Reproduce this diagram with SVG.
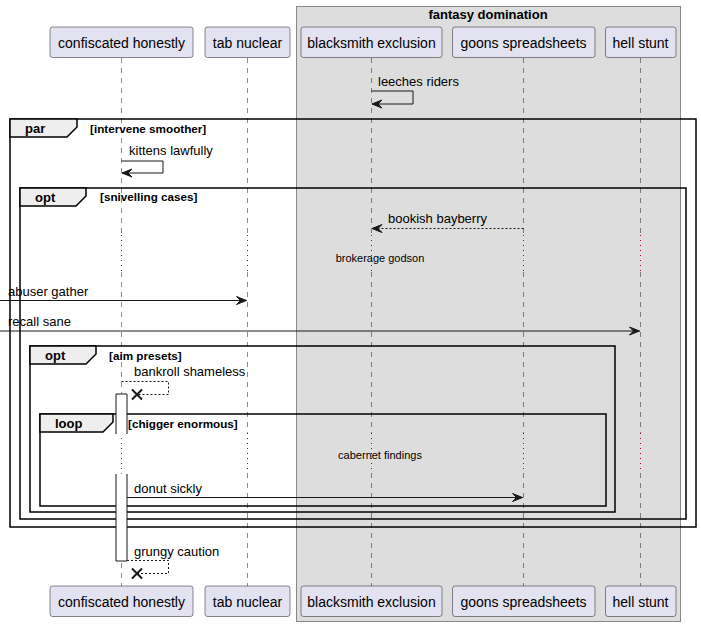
<svg xmlns="http://www.w3.org/2000/svg" width="701" height="627" viewBox="0 0 701 627">
  <style>
    text { font-family: "Liberation Sans", Arial, sans-serif; fill: #000; }
    .pbox { fill: #E2E2F0; stroke: #181818; stroke-width: 0.5; }
    .pname { font-size: 14px; text-anchor: middle; }
    .life { fill: none; stroke: #181818; stroke-width: 0.5; stroke-dasharray: 5,5; }
    .delay { fill: none; stroke: #A80036; stroke-width: 1; stroke-dasharray: 1,4; }
    .frame { fill: none; stroke: #000; stroke-width: 1.5; }
    .tab { fill: #EEEEEE; stroke: #000; stroke-width: 1.5; }
    .tabname { font-size: 13px; font-weight: bold; }
    .cond { font-size: 11.7px; font-weight: bold; }
    .msg { fill: none; stroke: #181818; stroke-width: 1; }
    .dashed { stroke-dasharray: 2,2; }
    .head { fill: #181818; stroke: #181818; stroke-width: 1; }
    .mlabel { font-size: 13px; }
    .dlabel { font-size: 11px; text-anchor: middle; }
    .kill { stroke: #181818; stroke-width: 2; }
    .act { fill: #FFFFFF; stroke: #181818; stroke-width: 1; }
  </style>

  <!-- box grouping the right-hand participants -->
  <g id="box-fantasy-domination">
    <rect x="296.5" y="6.5" width="384" height="615" fill="#DDDDDD" stroke="#888888" stroke-width="1"/>
    <text x="488" y="19" font-size="13" font-weight="bold" text-anchor="middle">fantasy domination</text>
  </g>

  <!-- lifelines -->
  <g id="lifelines">
    <path class="life" d="M121.5,58 V235 M121.5,272 V433 M121.5,473 V586"/>
    <path class="life" d="M247.5,58 V235 M247.5,272 V433 M247.5,473 V586"/>
    <path class="life" d="M371.5,58 V235 M371.5,272 V433 M371.5,473 V586"/>
    <path class="life" d="M523.5,58 V235 M523.5,272 V433 M523.5,473 V586"/>
    <path class="life" d="M640.5,58 V235 M640.5,272 V433 M640.5,473 V586"/>
    <path class="delay" d="M121.5,235 V272 M121.5,433 V473"/>
    <path class="delay" d="M247.5,235 V272 M247.5,433 V473"/>
    <path class="delay" d="M371.5,235 V272 M371.5,433 V473"/>
    <path class="delay" d="M523.5,235 V272 M523.5,433 V473"/>
    <path class="delay" d="M640.5,235 V272 M640.5,433 V473"/>
  </g>

  <!-- participants (head and foot) -->
  <g id="p-confiscated-honestly">
    <rect class="pbox" x="50" y="27" width="143" height="30.5" rx="2.5"/>
    <text class="pname" x="121.5" y="47.5">confiscated honestly</text>
    <rect class="pbox" x="50" y="586" width="143" height="30.5" rx="2.5"/>
    <text class="pname" x="121.5" y="606.5">confiscated honestly</text>
  </g>
  <g id="p-tab-nuclear">
    <rect class="pbox" x="205" y="27" width="85" height="30.5" rx="2.5"/>
    <text class="pname" x="247.5" y="47.5">tab nuclear</text>
    <rect class="pbox" x="205" y="586" width="85" height="30.5" rx="2.5"/>
    <text class="pname" x="247.5" y="606.5">tab nuclear</text>
  </g>
  <g id="p-blacksmith-exclusion">
    <rect class="pbox" x="301" y="27" width="141" height="30.5" rx="2.5"/>
    <text class="pname" x="371.5" y="47.5">blacksmith exclusion</text>
    <rect class="pbox" x="301" y="586" width="141" height="30.5" rx="2.5"/>
    <text class="pname" x="371.5" y="606.5">blacksmith exclusion</text>
  </g>
  <g id="p-goons-spreadsheets">
    <rect class="pbox" x="452.5" y="27" width="142.5" height="30.5" rx="2.5"/>
    <text class="pname" x="523.5" y="47.5">goons spreadsheets</text>
    <rect class="pbox" x="452.5" y="586" width="142.5" height="30.5" rx="2.5"/>
    <text class="pname" x="523.5" y="606.5">goons spreadsheets</text>
  </g>
  <g id="p-hell-stunt">
    <rect class="pbox" x="605.5" y="27" width="70.5" height="30.5" rx="2.5"/>
    <text class="pname" x="640.5" y="47.5">hell stunt</text>
    <rect class="pbox" x="605.5" y="586" width="70.5" height="30.5" rx="2.5"/>
    <text class="pname" x="640.5" y="606.5">hell stunt</text>
  </g>

  <!-- combined fragments -->
  <g id="frame-par">
    <rect class="frame" x="10" y="119" width="686" height="408"/>
    <polygon class="tab" points="10,119 77,119 77,127 67,137 10,137"/>
    <text class="tabname" x="25" y="133">par</text>
    <text class="cond" x="90" y="133">[intervene smoother]</text>
  </g>
  <g id="frame-opt-snivelling">
    <rect class="frame" x="20" y="188" width="666" height="331"/>
    <polygon class="tab" points="20,188 86,188 86,196 76,206 20,206"/>
    <text class="tabname" x="35" y="202">opt</text>
    <text class="cond" x="100" y="201">[snivelling cases]</text>
  </g>
  <g id="frame-opt-aim">
    <rect class="frame" x="30" y="346" width="585" height="166"/>
    <polygon class="tab" points="30,346 96,346 96,354 86,364 30,364"/>
    <text class="tabname" x="45" y="360">opt</text>
    <text class="cond" x="109" y="360">[aim presets]</text>
  </g>
  <g id="frame-loop">
    <rect class="frame" x="40" y="414" width="566" height="92"/>
    <polygon class="tab" points="40,414 113,414 113,422 103,432 40,432"/>
    <text class="tabname" x="55" y="428">loop</text>
    <text class="cond" x="128" y="428">[chigger enormous]</text>
  </g>

  <!-- activation bar on confiscated honestly -->
  <g id="activation">
    <rect x="116" y="394" width="11" height="40" fill="#FFFFFF"/>
    <path class="act" d="M116,434 V394 H127 V434" fill="none"/>
    <rect x="116" y="474" width="11" height="87" fill="#FFFFFF"/>
    <path class="act" d="M116,474 V561 H127 V474" fill="none"/>
  </g>

  <!-- messages -->
  <g id="connectors">
    <!-- leeches riders -->
    <path class="msg" d="M371.5,91 H413 V104 H372"/>
    <polygon class="head" points="382,100 372,104 382,108 378,104"/>
    <text class="mlabel" x="378" y="86">leeches riders</text>

    <!-- kittens lawfully -->
    <path class="msg" d="M121.5,161 H163 V173 H122"/>
    <polygon class="head" points="132,169 122,173 132,177 128,173"/>
    <text class="mlabel" x="129" y="155">kittens lawfully</text>

    <!-- bookish bayberry -->
    <path class="msg dashed" d="M523.5,228.5 H372"/>
    <polygon class="head" points="382,224.5 372,228.5 382,232.5 378,228.5"/>
    <text class="mlabel" x="388" y="223">bookish bayberry</text>

    <!-- brokerage godson (delay) -->
    <text class="dlabel" x="380" y="261.5">brokerage godson</text>

    <!-- abuser gather -->
    <path class="msg" d="M0,300.5 H246.5"/>
    <polygon class="head" points="236.5,296.5 246.5,300.5 236.5,304.5 240.5,300.5"/>
    <text class="mlabel" x="8" y="296">abuser gather</text>

    <!-- recall sane -->
    <path class="msg" d="M0,331 H639.5"/>
    <polygon class="head" points="629.5,327 639.5,331 629.5,335 633.5,331"/>
    <text class="mlabel" x="8" y="326">recall sane</text>

    <!-- bankroll shameless -->
    <path class="msg dashed" d="M121.5,381.5 H168.5 V394.5 H138"/>
    <path class="kill" d="M132,389.5 L142,399.5 M132,399.5 L142,389.5"/>
    <text class="mlabel" x="134" y="376">bankroll shameless</text>

    <!-- cabernet findings (delay) -->
    <text class="dlabel" x="380" y="458.5">cabernet findings</text>

    <!-- donut sickly -->
    <path class="msg" d="M127,497.5 H522.5"/>
    <polygon class="head" points="512.5,493.5 522.5,497.5 512.5,501.5 516.5,497.5"/>
    <text class="mlabel" x="134" y="492.5">donut sickly</text>

    <!-- grungy caution -->
    <path class="msg dashed" d="M127,560.5 H168.5 V573.5 H138"/>
    <path class="kill" d="M132,568.5 L142,578.5 M132,578.5 L142,568.5"/>
    <text class="mlabel" x="134" y="555.5">grungy caution</text>
  </g>
</svg>
